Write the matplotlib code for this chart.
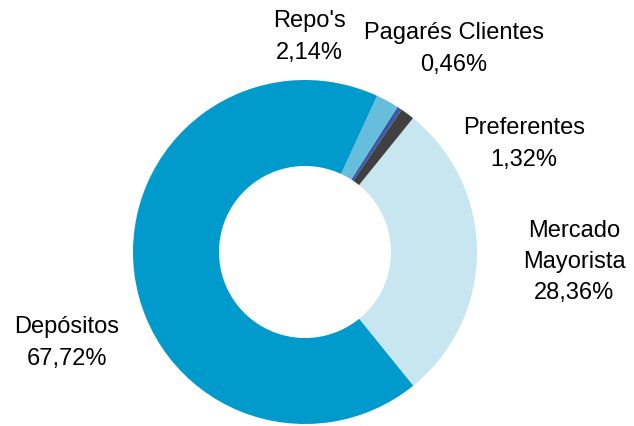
import matplotlib
matplotlib.use("Agg")
import matplotlib.pyplot as plt

# funding structure (%), in drawing order (counter-clockwise from bottom right)
labels = ["Mercado\nMayorista", "Preferentes", "Pagarés Clientes", "Repo's", "Depósitos"]
values = [28.36, 1.32, 0.46, 2.14, 67.72]
colors = ["#c8e6f0", "#404040", "#3b5ba5", "#66bddc", "#009bcc"]

# label anchor points, in pixels from the top left of the image
label_pos = [(574, 262), (524, 144), (454, 49), (309, 37), (67, 343)]

W, H = 634, 427
fig = plt.figure(figsize=(W / 100, H / 100), dpi=100)
ax = fig.add_axes([0, 0, 1, 1])
plt.rcParams['font.family'] = ['Liberation Sans', 'DejaVu Sans']

cx, cy, R = 305, 253, 172
ax.pie(values, colors=colors, startangle=-51, counterclock=True,
       radius=R, center=(cx, H - cy),
       wedgeprops=dict(width=R * 0.5, linewidth=0))

for lab, v, (x, y) in zip(labels, values, label_pos):
    txt = lab + "\n" + ("%.2f" % v).replace(".", ",") + "%"
    ax.text(x, H - y, txt, ha="center", va="center", fontsize=17,
            linespacing=1.55, color="#000000", family=['Liberation Sans', 'DejaVu Sans'])

ax.set_xlim(0, W)
ax.set_ylim(0, H)
ax.set_aspect("equal")
ax.axis("off")

fig.savefig("out.png", dpi=100)
